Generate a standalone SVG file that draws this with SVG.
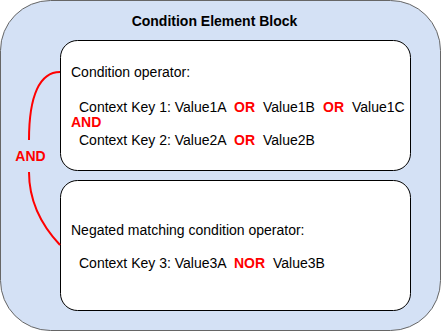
<svg xmlns="http://www.w3.org/2000/svg" width="441" height="331" viewBox="0 0 441 331">
<style>
text{font-family:"Liberation Sans",Arial,Helvetica,sans-serif;font-size:14px;fill:#000}
.b{font-weight:bold}
.r{fill:#FF0000;font-weight:bold}
.box{fill:#fff;stroke:#000;stroke-width:1}
.conn{fill:none;stroke:#FF0000;stroke-width:2}
</style>
<g id="outer">
<rect x="0.5" y="0.5" width="440" height="330" rx="50" ry="50" fill="#D4E1F5" stroke="#666666" stroke-width="1"/>
<text class="b" x="214.5" y="25.5" text-anchor="middle">Condition Element Block</text>
</g>
<g id="box1">
<rect class="box" x="60.5" y="40.5" width="350" height="130" rx="17" ry="17"/>
<text x="71" y="77">Condition operator:</text>
<text x="79" y="112">Context Key 1: Value1A</text>
<text class="r" x="234" y="112">OR</text>
<text x="263" y="112">Value1B</text>
<text class="r" x="323" y="112">OR</text>
<text x="352" y="112">Value1C</text>
<text class="r" x="71" y="127">AND</text>
<text x="79" y="145">Context Key 2: Value2A</text>
<text class="r" x="234" y="145">OR</text>
<text x="263" y="145">Value2B</text>
</g>
<g id="box2">
<rect class="box" x="60.5" y="180.5" width="350" height="130" rx="17" ry="17"/>
<text x="71" y="235">Negated matching condition operator:</text>
<text x="79" y="268">Context Key 3: Value3A</text>
<text class="r" x="234" y="268">NOR</text>
<text x="273" y="268">Value3B</text>
</g>
<g id="connectors">
<path class="conn" d="M60,72 C40,72 29,95 29,140"/>
<path class="conn" d="M29,172 C29,205 44,228 60,245"/>
<text class="r" x="30.5" y="161" text-anchor="middle">AND</text>
</g>
</svg>
